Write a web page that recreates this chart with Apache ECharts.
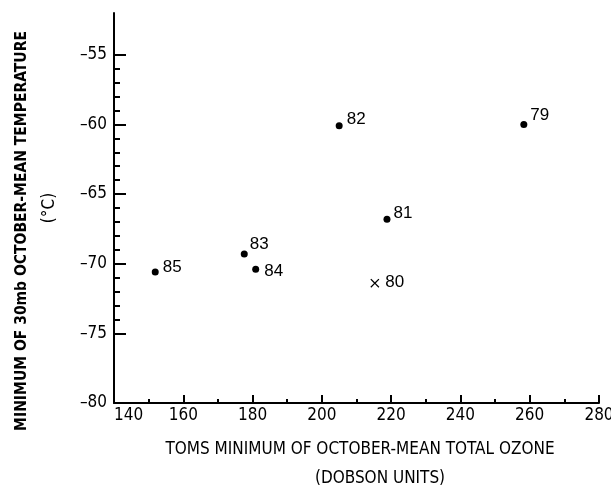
<!DOCTYPE html>
<html><head><meta charset="utf-8">
<script src="https://cdn.jsdelivr.net/npm/echarts@6/dist/echarts.min.js"></script>
<style>html,body{margin:0;padding:0;background:#fff}#c{width:611px;height:488px}</style>
</head><body><div id="c"></div>
<script>
// ---- data ----
const years = ['79', '80', '81', '82', '83', '84', '85'];
const ozone = [258.3, 215.3, 218.8, 205.0, 177.6, 180.9, 151.9];
const temperature = [-60.0, -71.4, -66.8, -60.1, -69.3, -70.4, -70.6];
const markerType = ['dot', 'cross', 'dot', 'dot', 'dot', 'dot', 'dot'];
const xTickLabels = [140, 160, 180, 200, 220, 240, 260, 280];
const yTickLabels = [-80, -75, -70, -65, -60, -55];
const yMinorTicks = [-74, -73, -72, -71, -69, -68, -67, -66, -64, -63, -62, -61, -59, -58, -57, -56];

// ---- layout/style (not data) ----
const NARROW = "'Liberation Sans Narrow', 'DejaVu Sans Condensed', 'Arial Narrow', sans-serif";
const labelOffsets = { '79': [0, -9], '80': [3, -1], '81': [0, -6], '82': [1, -7], '83': [-1, -10], '84': [2, 2], '85': [1, -5] };
const crossPath = 'path://M0,1L1,0L5,4L9,0L10,1L6,5L10,9L9,10L5,6L1,10L0,9L4,5Z';

function mk(type) {
  const out = [];
  years.forEach((y, i) => {
    if (markerType[i] !== type) return;
    out.push({ value: [ozone[i], temperature[i]], name: y, label: { offset: labelOffsets[y] } });
  });
  return out;
}

const axisCol = '#000';
const chart = echarts.init(document.getElementById('c'), null, { renderer: 'canvas' });
chart.setOption({
  animation: false,
  backgroundColor: '#fff',
  grid: { left: 114, right: 12, top: 13, bottom: 85, containLabel: false, outerBoundsMode: 'none' },
  xAxis: [{
    type: 'value', min: xTickLabels[0], max: xTickLabels[xTickLabels.length - 1], interval: 20,
    axisLine: { lineStyle: { color: axisCol, width: 2 } },
    axisTick: { inside: true, length: 8, lineStyle: { color: axisCol, width: 2 } },
    minorTick: { show: true, splitNumber: 2, length: 4, lineStyle: { color: axisCol, width: 2 } },
    splitLine: { show: false },
    axisLabel: { color: '#000', fontSize: 17, fontFamily: NARROW, margin: 4, alignMinLabel: 'left' },
    name: 'TOMS MINIMUM OF OCTOBER-MEAN TOTAL OZONE', nameLocation: 'middle', nameGap: 38,
    nameTextStyle: { color: '#000', fontSize: 17, fontFamily: NARROW, padding: [0, 0, 0, 7] }
  }, {
    type: 'value', min: xTickLabels[0], max: xTickLabels[xTickLabels.length - 1], position: 'bottom',
    axisLine: { show: false }, axisTick: { show: false }, axisLabel: { show: false }, splitLine: { show: false },
    name: '(DOBSON UNITS)', nameLocation: 'middle', nameGap: 67,
    nameTextStyle: { color: '#000', fontSize: 17, fontFamily: NARROW, padding: [0, 0, 0, 47] }
  }],
  yAxis: [{
    type: 'value', min: -80, max: -52, interval: 5,
    axisLine: { lineStyle: { color: axisCol, width: 2 } },
    axisTick: { inside: true, length: 12, customValues: yTickLabels.slice(1), lineStyle: { color: axisCol, width: 2 } },
    splitLine: { show: false },
    axisLabel: { color: '#000', fontSize: 17, fontFamily: NARROW, margin: 7, customValues: yTickLabels,
      formatter: v => '\u2013' + Math.abs(v) },
    name: 'MINIMUM OF 30mb OCTOBER-MEAN TEMPERATURE', nameLocation: 'middle', nameGap: 84,
    nameTextStyle: { color: '#000', fontSize: 15.5, fontWeight: 'bold', fontFamily: NARROW, padding: [0, 46, 0, 0] }
  }, {
    type: 'value', min: -80, max: -52, position: 'left',
    axisLine: { show: false },
    axisTick: { show: true, inside: true, length: 6, customValues: yMinorTicks, lineStyle: { color: axisCol, width: 2 } },
    axisLabel: { show: false }, splitLine: { show: false },
    name: '(\u00B0C)', nameLocation: 'middle', nameGap: 56,
    nameTextStyle: { color: '#000', fontSize: 17, fontFamily: NARROW }
  }],
  series: [{
    type: 'scatter', xAxisIndex: 0, yAxisIndex: 0, symbol: 'circle', symbolSize: 7,
    itemStyle: { color: '#000', opacity: 1 },
    label: { show: true, position: 'right', distance: 3, formatter: p => p.name, color: '#000', fontSize: 17, fontFamily: "'Liberation Sans', Arial, sans-serif" },
    data: mk('dot')
  }, {
    type: 'scatter', xAxisIndex: 0, yAxisIndex: 0, symbol: crossPath, symbolSize: 9,
    itemStyle: { color: '#000', opacity: 1 },
    label: { show: true, position: 'right', distance: 3, formatter: p => p.name, color: '#000', fontSize: 17, fontFamily: "'Liberation Sans', Arial, sans-serif" },
    data: mk('cross')
  }]
});
</script></body></html>
